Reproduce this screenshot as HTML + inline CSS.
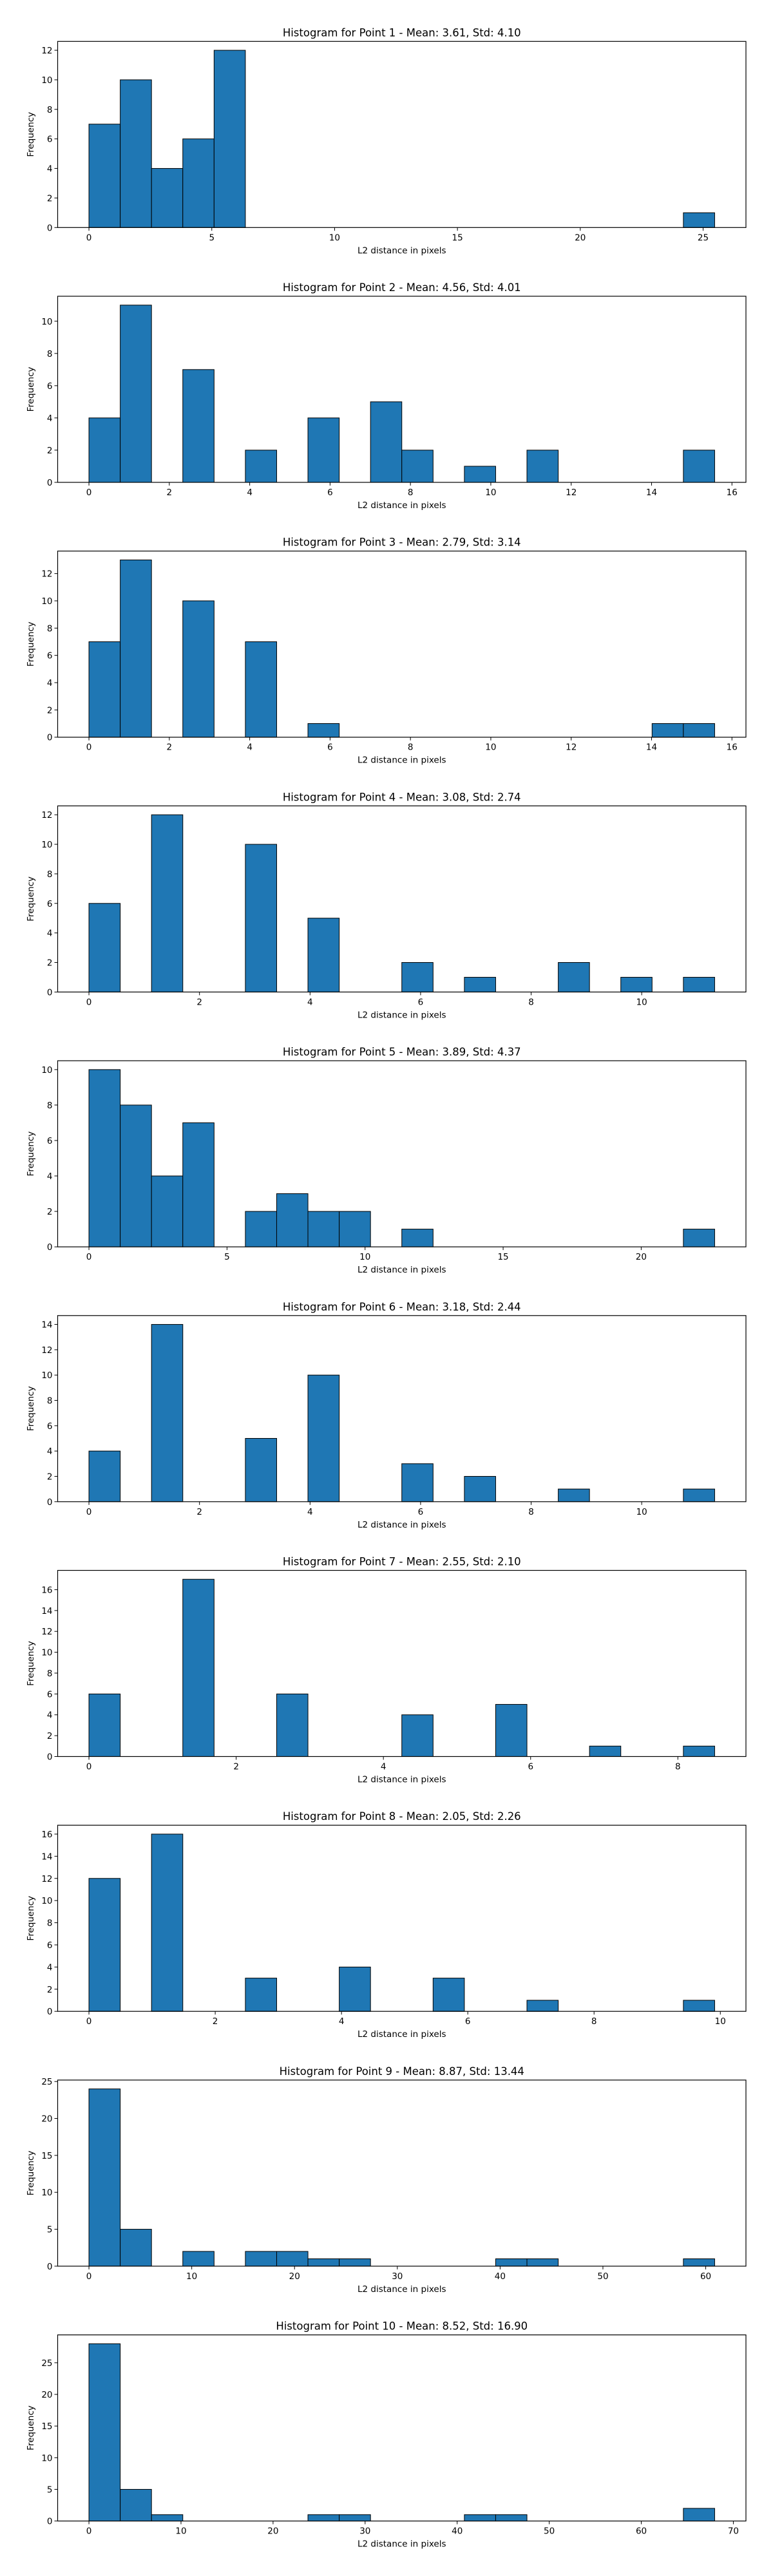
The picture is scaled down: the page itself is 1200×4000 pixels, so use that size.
<!DOCTYPE html>
<html><head><meta charset="utf-8">
<style>
html,body{margin:0;padding:0;background:#fff;}
svg{display:block;font-family:"DejaVu Sans","Liberation Sans",sans-serif;}
</style></head>
<body>
<svg id="fig" width="1200" height="4000" viewBox="0 0 1200 4000"></svg>
<script>
const titles = [
 "Histogram for Point 1 - Mean: 3.61, Std: 4.10",
 "Histogram for Point 2 - Mean: 4.56, Std: 4.01",
 "Histogram for Point 3 - Mean: 2.79, Std: 3.14",
 "Histogram for Point 4 - Mean: 3.08, Std: 2.74",
 "Histogram for Point 5 - Mean: 3.89, Std: 4.37",
 "Histogram for Point 6 - Mean: 3.18, Std: 2.44",
 "Histogram for Point 7 - Mean: 2.55, Std: 2.10",
 "Histogram for Point 8 - Mean: 2.05, Std: 2.26",
 "Histogram for Point 9 - Mean: 8.87, Std: 13.44",
 "Histogram for Point 10 - Mean: 8.52, Std: 16.90"
];
const dataMin = [0,0,0,0,0,0,0,0,0,0];
const dataMax = [25.47,15.57,15.57,11.32,22.66,11.32,8.50,9.91,60.87,67.97];
const counts1 = [7,10,4,6,12,0,0,0,0,0,0,0,0,0,0,0,0,0,0,1];
const counts2 = [4,11,0,7,0,2,0,4,0,5,2,0,1,0,2,0,0,0,0,2];
const counts3 = [7,13,0,10,0,7,0,1,0,0,0,0,0,0,0,0,0,0,1,1];
const counts4 = [6,0,12,0,0,10,0,5,0,0,2,0,1,0,0,2,0,1,0,1];
const counts5 = [10,8,4,7,0,2,3,2,2,0,1,0,0,0,0,0,0,0,0,1];
const counts6 = [4,0,14,0,0,5,0,10,0,0,3,0,2,0,0,1,0,0,0,1];
const counts7 = [6,0,0,17,0,0,6,0,0,0,4,0,0,5,0,0,1,0,0,1];
const counts8 = [12,0,16,0,0,3,0,0,4,0,0,3,0,0,1,0,0,0,0,1];
const counts9 = [24,5,0,2,0,2,2,1,1,0,0,0,0,1,1,0,0,0,0,1];
const counts10 = [28,5,1,0,0,0,0,1,1,0,0,0,1,1,0,0,0,0,0,2];
const allCounts = [counts1,counts2,counts3,counts4,counts5,counts6,counts7,counts8,counts9,counts10];
const xTickStep = [5,2,2,2,5,2,2,2,10,10];
const yTickStep = [2,2,2,2,2,2,2,2,5,5];

const NS="http://www.w3.org/2000/svg";
const svg=document.getElementById('fig');
function mk(tag,attrs,parent){const e=document.createElementNS(NS,tag);for(const k in attrs)e.setAttribute(k,attrs[k]);(parent||svg).appendChild(e);return e;}

const L=89.5,R=1158,H=289;
for(let p=0;p<10;p++){
  const top=64.3+395.7*p, bot=top+H;
  const g=mk('g',{});
  
  
  const c=allCounts[p];
  const mn=dataMin[p], mx=dataMax[p], rng=mx-mn;
  const x0=mn-0.05*rng, x1=mx+0.05*rng;
  const ymaxC=Math.max(...c), y1=ymaxC*1.05;
  const xs=v=>L+(v-x0)/(x1-x0)*(R-L);
  const ys=v=>bot-v/y1*H;
  const bw=rng/c.length;
  for(let i=0;i<c.length;i++){
    if(c[i]<=0) continue;
    const a=xs(mn+i*bw), b=xs(mn+(i+1)*bw);
    const r=mk('rect',{x:a,y:ys(c[i]),width:b-a,height:bot-ys(c[i]),fill:'#1f77b4',stroke:'#000','stroke-width':1},g);
    
    
  }
  const fr=mk('rect',{x:L,y:top,width:R-L,height:H,fill:'none',stroke:'#000','stroke-width':1.2},g);
  
  
  const xs0=xTickStep[p];
  for(let t=0;t<=x1+1e-9;t+=xs0){
    if(t<x0) continue;
    const X=xs(t);
    mk('line',{x1:X,y1:bot,x2:X,y2:bot+5,stroke:'#000','stroke-width':1},g);
    const tx=mk('text',{x:X,y:bot+20,'font-size':13.5,'text-anchor':'middle',fill:'#000'},g);
    tx.textContent=String(t);
    
    
  }
  const ys0=yTickStep[p];
  for(let t=0;t<=y1+1e-9;t+=ys0){
    const Y=ys(t);
    mk('line',{x1:L-5,y1:Y,x2:L,y2:Y,stroke:'#000','stroke-width':1},g);
    const ty=mk('text',{x:L-8,y:Y+5,'font-size':13.5,'text-anchor':'end',fill:'#000'},g);
    ty.textContent=String(t);
    
    
  }
  const ti=mk('text',{x:(L+R)/2,y:top-8,'font-size':16.5,'text-anchor':'middle',fill:'#000'},g);
  ti.textContent=titles[p];
  
  
  const xl=mk('text',{x:(L+R)/2,y:bot+40,'font-size':13.5,'text-anchor':'middle',fill:'#000'},g);
  xl.textContent="L2 distance in pixels";
  
  
  const yl=mk('text',{x:0,y:0,'font-size':13.5,'text-anchor':'middle',fill:'#000',transform:`translate(52,${(top+bot)/2}) rotate(-90)`},g);
  yl.textContent="Frequency";
  
  
}
</script>
</body></html>
